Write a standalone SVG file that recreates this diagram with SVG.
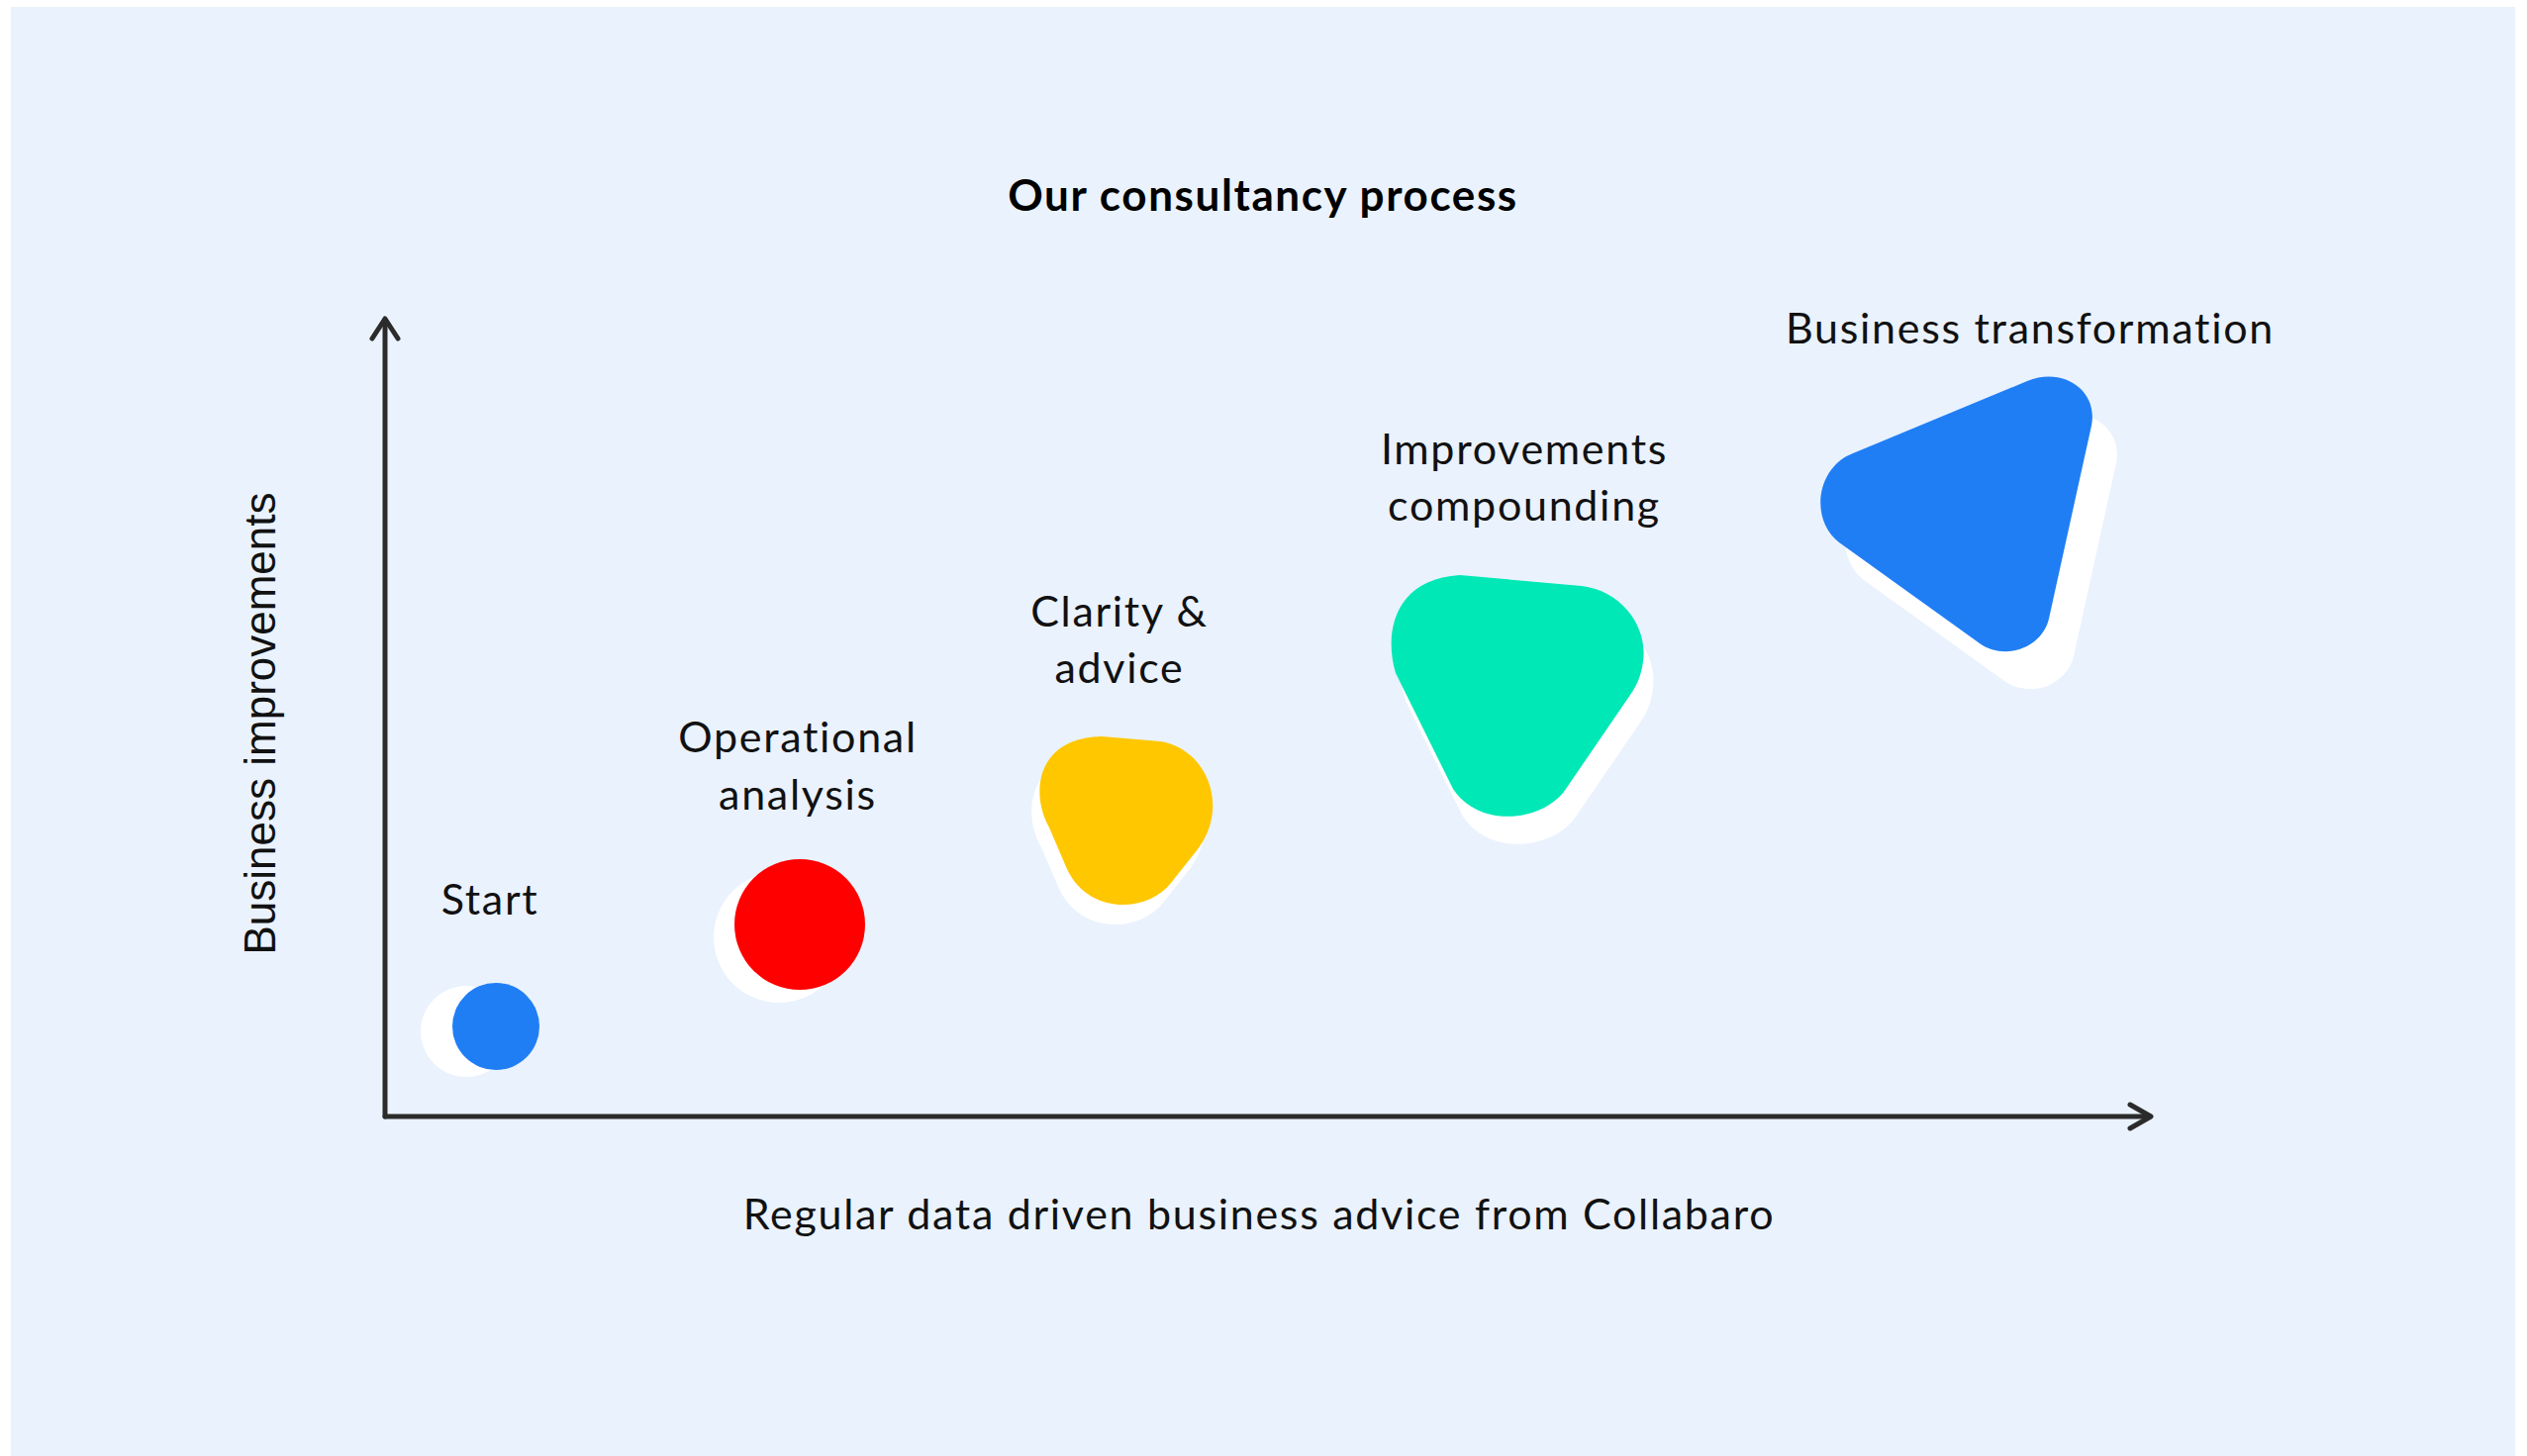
<svg xmlns="http://www.w3.org/2000/svg" width="2553" height="1471" viewBox="0 0 2553 1471">
<style>
.lbl{font-family:Lato,"Open Sans","Liberation Sans",sans-serif;font-size:43px;letter-spacing:1.7px;fill:#111;text-anchor:middle}
.title{font-family:Lato,"Open Sans","Liberation Sans",sans-serif;font-size:44px;letter-spacing:1.6px;font-weight:700;fill:#000;text-anchor:middle}
.ylbl{font-family:"Liberation Sans",Arial,sans-serif;font-size:44px;fill:#111;text-anchor:middle}
.axis{fill:none;stroke:#2b2b2b;stroke-width:5;stroke-linecap:round;stroke-linejoin:round}
.shadow{fill:#ffffff}
</style>
<rect x="0" y="0" width="2553" height="1471" fill="#ffffff"/>
<rect x="11" y="7" width="2530" height="1464" fill="#eaf2fd"/>
<text class="title" x="1276" y="213">Our consultancy process</text>
<g id="connectors">
<path class="axis" d="M389,1128 L389,323"/>
<path class="axis" d="M376,342 L389,322 L402,342"/>
<path class="axis" d="M389,1128 L2172,1128"/>
<path class="axis" d="M2152,1116 L2173,1128 L2152,1140"/>
</g>
<text class="ylbl" transform="translate(278,731) rotate(-90)">Business improvements</text>
<text class="lbl" x="1272" y="1242">Regular data driven business advice from Collabaro</text>
<g id="start">
<circle class="shadow" cx="471" cy="1042" r="46"/>
<circle cx="501" cy="1037" r="44" fill="#207ef5"/>
<text class="lbl" x="495" y="924">Start</text>
</g>
<g id="operational">
<circle class="shadow" cx="787" cy="947" r="66"/>
<circle cx="808" cy="934" r="66" fill="#ff0000"/>
<text class="lbl" x="806" y="760">Operational</text>
<text class="lbl" x="806" y="818">analysis</text>
</g>
<g id="clarity">
<path class="shadow" transform="translate(-8,20)" d="M1113,744 L1172,749 C1205,754 1228,785 1225,820 C1223,838 1217,848 1210,858 L1183,892 C1160,922 1100,925 1078,878 L1060,836 C1040,800 1048,745 1113,744 Z"/>
<path fill="#ffc700" d="M1113,744 L1172,749 C1205,754 1228,785 1225,820 C1223,838 1217,848 1210,858 L1183,892 C1160,922 1100,925 1078,878 L1060,836 C1040,800 1048,745 1113,744 Z"/>
<text class="lbl" x="1131" y="633">Clarity &amp;</text>
<text class="lbl" x="1131" y="690">advice</text>
</g>
<g id="improvements">
<path class="shadow" transform="translate(10,28)" d="M1475,581 L1598,592 C1640,597 1665,635 1660,668 C1658,685 1652,695 1645,705 L1582,797 C1560,830 1495,838 1468,797 L1410,680 C1398,640 1408,585 1475,581 Z"/>
<path fill="#00e8b6" d="M1475,581 L1598,592 C1640,597 1665,635 1660,668 C1658,685 1652,695 1645,705 L1582,797 C1560,830 1495,838 1468,797 L1410,680 C1398,640 1408,585 1475,581 Z"/>
<text class="lbl" x="1540" y="469">Improvements</text>
<text class="lbl" x="1540" y="526">compounding</text>
</g>
<g id="transformation">
<path class="shadow" transform="translate(25,38)" d="M1872,458 L2048,385 C2085,370 2120,395 2113,430 L2070,625 C2063,655 2025,668 2000,650 L1858,548 C1828,525 1835,472 1872,458 Z"/>
<path fill="#207ef5" d="M1872,458 L2048,385 C2085,370 2120,395 2113,430 L2070,625 C2063,655 2025,668 2000,650 L1858,548 C1828,525 1835,472 1872,458 Z"/>
<text class="lbl" x="2051" y="347">Business transformation</text>
</g>
</svg>
